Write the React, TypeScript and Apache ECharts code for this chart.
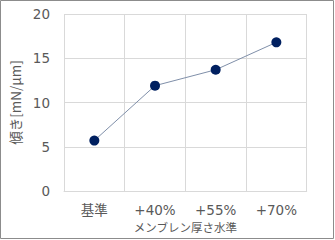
import React, { useEffect, useRef } from "react";
import * as echarts from "echarts";

const categories = ["基準", "+40%", "+55%", "+70%"];
const values = [5.7, 11.9, 13.7, 16.8];
const yTicks = [0, 5, 10, 15, 20];
const yName = "傾き[mN/μm]";
const xName = "メンブレン厚さ水準";

export default function App() {
  const ref = useRef<HTMLDivElement>(null);
  useEffect(() => {
    document.body.style.margin = "0";
    const chart = echarts.init(ref.current!, undefined, { renderer: "svg" });
    const font = "'DejaVu Sans', 'Noto Sans CJK JP', sans-serif";
    const cjk = "'Noto Sans CJK JP', 'Noto Sans', sans-serif";
    chart.setOption({
      animation: false,
      backgroundColor: "#ffffff",
      textStyle: { fontFamily: font },
      grid: { left: 64, right: 28.3, top: 14, bottom: 49, containLabel: false },
      graphic: [
        {
          type: "rect",
          shape: { x: 0.5, y: 0.5, width: 333, height: 238 },
          style: { fill: "none", stroke: "#8c8c8c", lineWidth: 1 },
          silent: true,
        },
      ],
      xAxis: {
        type: "category",
        data: categories,
        boundaryGap: true,
        name: xName,
        nameLocation: "middle",
        nameGap: 30,
        nameTextStyle: { color: "#595959", fontSize: 11.5, fontFamily: cjk },
        axisLine: { show: true, lineStyle: { color: "#d9d9d9" } },
        axisTick: { show: false },
        axisLabel: { color: "#595959", fontSize: 13.5, margin: 12, fontFamily: font },
        splitLine: { show: true, lineStyle: { color: "#d9d9d9", width: 1 } },
      },
      yAxis: {
        type: "value",
        min: yTicks[0],
        max: yTicks[yTicks.length - 1],
        interval: 5,
        name: yName,
        nameLocation: "middle",
        nameGap: 42,
        nameRotate: 90,
        nameTextStyle: { color: "#595959", fontSize: 13.5, fontFamily: cjk },
        axisLine: { show: false },
        axisTick: { show: false },
        axisLabel: { color: "#595959", fontSize: 13.5, margin: 14, fontFamily: font },
        splitLine: { show: true, lineStyle: { color: "#d9d9d9", width: 1 } },
      },
      series: [
        {
          type: "line",
          data: values,
          symbol: "circle",
          symbolSize: 10,
          itemStyle: { color: "#002060" },
          lineStyle: { color: "#7f8fa9", width: 1 },
        },
      ],
    });
    return () => chart.dispose();
  }, []);
  return (
    <div
      ref={ref}
      style={{ position: "absolute", left: 0, top: 0, width: 335, height: 240 }}
    />
  );
}
